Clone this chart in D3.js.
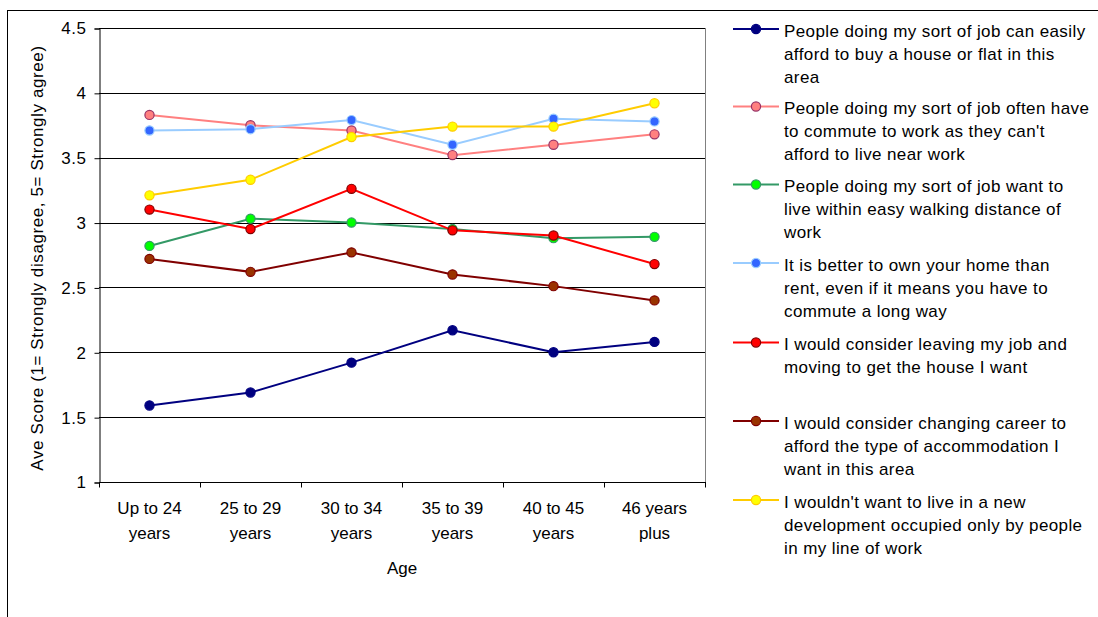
<!DOCTYPE html>
<html>
<head>
<meta charset="utf-8">
<script src="https://cdn.jsdelivr.net/npm/d3@7"></script>
<style>
  html, body { margin: 0; padding: 0; background: #fff; }
  svg { display: block; font-family: "Liberation Sans", Arial, sans-serif; }
</style>
</head>
<body>
<svg id="chart" width="1098" height="617"></svg>
<script>
// Age bands (x categories), split over two label lines
const ageGroups = ["Up to 24 years", "25 to 29 years", "30 to 34 years", "35 to 39 years", "40 to 45 years", "46 years plus"];
const ageLabelLines = [["Up to 24", "years"], ["25 to 29", "years"], ["30 to 34", "years"], ["35 to 39", "years"], ["40 to 45", "years"], ["46 years", "plus"]];

// Average agreement score per statement, one value per age band
const affordHouse      = [1.59, 1.69, 1.92, 2.17, 2.00, 2.08];
const oftenCommute     = [3.83, 3.75, 3.71, 3.52, 3.60, 3.68];
const walkingDistance  = [2.82, 3.03, 3.00, 2.95, 2.88, 2.89];
const betterToOwn      = [3.71, 3.72, 3.79, 3.60, 3.80, 3.78];
const leaveJob         = [3.10, 2.95, 3.26, 2.94, 2.90, 2.68];
const changeCareer     = [2.72, 2.62, 2.77, 2.60, 2.51, 2.40];
const newDevelopment   = [3.21, 3.33, 3.66, 3.74, 3.74, 3.92];

// Statement wording, wrapped as shown in the legend
const seriesLabels = [
  ["People doing my sort of job can easily", "afford to buy a house or flat in this", "area"],
  ["People doing my sort of job often have", "to commute to work as they can't", "afford to live near work"],
  ["People doing my sort of job want to", "live within easy walking distance of", "work"],
  ["It is better to own your home than", "rent, even if it means you have to", "commute a long way"],
  ["I would consider leaving my job and", "moving to get the house I want"],
  ["I would consider changing career to", "afford the type of accommodation I", "want in this area"],
  ["I wouldn't want to live in a new", "development occupied only by people", "in my line of work"]
];

const yTicks = [1, 1.5, 2, 2.5, 3, 3.5, 4, 4.5];

const seriesValues = [affordHouse, oftenCommute, walkingDistance, betterToOwn, leaveJob, changeCareer, newDevelopment];
const lineColors   = ["#000080", "#FF8080", "#339966", "#99CCFF", "#FF0000", "#800000", "#FFCC00"];
const markerFills  = ["#000080", "#FF8080", "#00FF00", "#3366FF", "#FF0000", "#993300", "#FFFF00"];
const markerEdges  = ["#000080", "#993366", "#339966", "#99CCFF", "#800000", "#800000", "#FFCC00"];

const FONT = 17;
const svg = d3.select("#chart");

// outer chart frame
svg.append("rect")
  .attr("x", 7.5).attr("y", 10.5)
  .attr("width", 1100).attr("height", 620)
  .attr("fill", "none").attr("stroke", "#000").attr("stroke-width", 1);

const plot = { left: 99, right: 705, top: 28, bottom: 482 };

const x = d3.scaleBand().domain(ageGroups).range([plot.left, plot.right]);
const y = d3.scaleLinear().domain([1, 4.5]).range([plot.bottom, plot.top]);

// horizontal gridlines
svg.append("g")
  .selectAll("line")
  .data(yTicks.filter(t => t > 1))
  .join("line")
  .attr("x1", plot.left).attr("x2", plot.right)
  .attr("y1", d => Math.round(y(d)) + 0.5).attr("y2", d => Math.round(y(d)) + 0.5)
  .attr("stroke", "#000").attr("stroke-width", 1);

// right edge of plot area
svg.append("line")
  .attr("x1", plot.right + 0.5).attr("x2", plot.right + 0.5)
  .attr("y1", plot.top).attr("y2", plot.bottom)
  .attr("stroke", "#808080").attr("stroke-width", 1);

// y axis
const yAxis = d3.axisLeft(y).tickValues(yTicks).tickFormat(d3.format("")).tickSize(5).tickPadding(8);
const gy = svg.append("g")
  .attr("transform", `translate(${plot.left + 0.5},0.5)`)
  .call(yAxis);
gy.select(".domain").attr("stroke", "#000");
gy.selectAll(".tick line").attr("stroke", "#000");
gy.selectAll(".tick text").attr("font-size", FONT).attr("fill", "#000")
  .attr("letter-spacing", 0.5)
  .attr("font-family", "Liberation Sans, Arial, sans-serif");

// x axis with boundary ticks between categories
const gx = svg.append("g").attr("transform", `translate(0,${plot.bottom + 0.5})`);
gx.append("line")
  .attr("x1", plot.left).attr("x2", plot.right + 1)
  .attr("stroke", "#000");
const boundaries = ageGroups.map(g => x(g)).concat([x(ageGroups[ageGroups.length - 1]) + x.bandwidth()]);
gx.selectAll(".bt")
  .data(boundaries)
  .join("line")
  .attr("class", "bt")
  .attr("x1", d => Math.round(d) + 0.5).attr("x2", d => Math.round(d) + 0.5)
  .attr("y1", 0).attr("y2", 5)
  .attr("stroke", "#000");

// x category labels (two lines each)
const xl = svg.append("g");
ageGroups.forEach((g, i) => {
  const cx = x(g) + x.bandwidth() / 2;
  const t = xl.append("text")
    .attr("x", cx)
    .attr("y", 514)
    .attr("text-anchor", "middle")
    .attr("font-size", FONT)
    .attr("fill", "#000");
  ageLabelLines[i].forEach((ln, j) => {
    t.append("tspan").attr("x", cx).attr("dy", j === 0 ? 0 : 25).text(ln);
  });
});

// axis titles
svg.append("text")
  .attr("x", (plot.left + plot.right) / 2)
  .attr("y", 574)
  .attr("text-anchor", "middle")
  .attr("font-size", FONT)
  .text("Age");

svg.append("text")
  .attr("transform", `translate(43,${(plot.top + plot.bottom) / 2 + 3}) rotate(-90)`)
  .attr("text-anchor", "middle")
  .attr("font-size", FONT)
  .attr("letter-spacing", 0.6)
  .text("Ave Score (1= Strongly disagree, 5= Strongly agree)");

// series lines and markers
const line = d3.line()
  .x((d, i) => x(ageGroups[i]) + x.bandwidth() / 2)
  .y(d => y(d));

seriesValues.forEach((vals, s) => {
  const g = svg.append("g");
  g.append("path")
    .datum(vals)
    .attr("d", line)
    .attr("fill", "none")
    .attr("stroke", lineColors[s])
    .attr("stroke-width", 2);
  g.selectAll("circle")
    .data(vals)
    .join("circle")
    .attr("cx", (d, i) => x(ageGroups[i]) + x.bandwidth() / 2)
    .attr("cy", d => y(d))
    .attr("r", 4.6)
    .attr("fill", markerFills[s])
    .attr("stroke", markerEdges[s])
    .attr("stroke-width", 1.2);
});

// legend
const legendTops = [29, 106.5, 184.5, 263, 342.5, 421, 500];
const lineGap = 23;
const lg = svg.append("g");
seriesLabels.forEach((lines, s) => {
  const cy = legendTops[s];
  lg.append("line")
    .attr("x1", 733).attr("x2", 779)
    .attr("y1", cy).attr("y2", cy)
    .attr("stroke", lineColors[s]).attr("stroke-width", 2);
  lg.append("circle")
    .attr("cx", 756).attr("cy", cy).attr("r", 4.6)
    .attr("fill", markerFills[s]).attr("stroke", markerEdges[s]).attr("stroke-width", 1.2);
  const t = lg.append("text")
    .attr("x", 784).attr("y", cy + 7.5)
    .attr("font-size", FONT).attr("letter-spacing", 0.4).attr("fill", "#000");
  lines.forEach((ln, j) => {
    t.append("tspan").attr("x", 784).attr("dy", j === 0 ? 0 : lineGap).text(ln);
  });
});
</script>
</body>
</html>
